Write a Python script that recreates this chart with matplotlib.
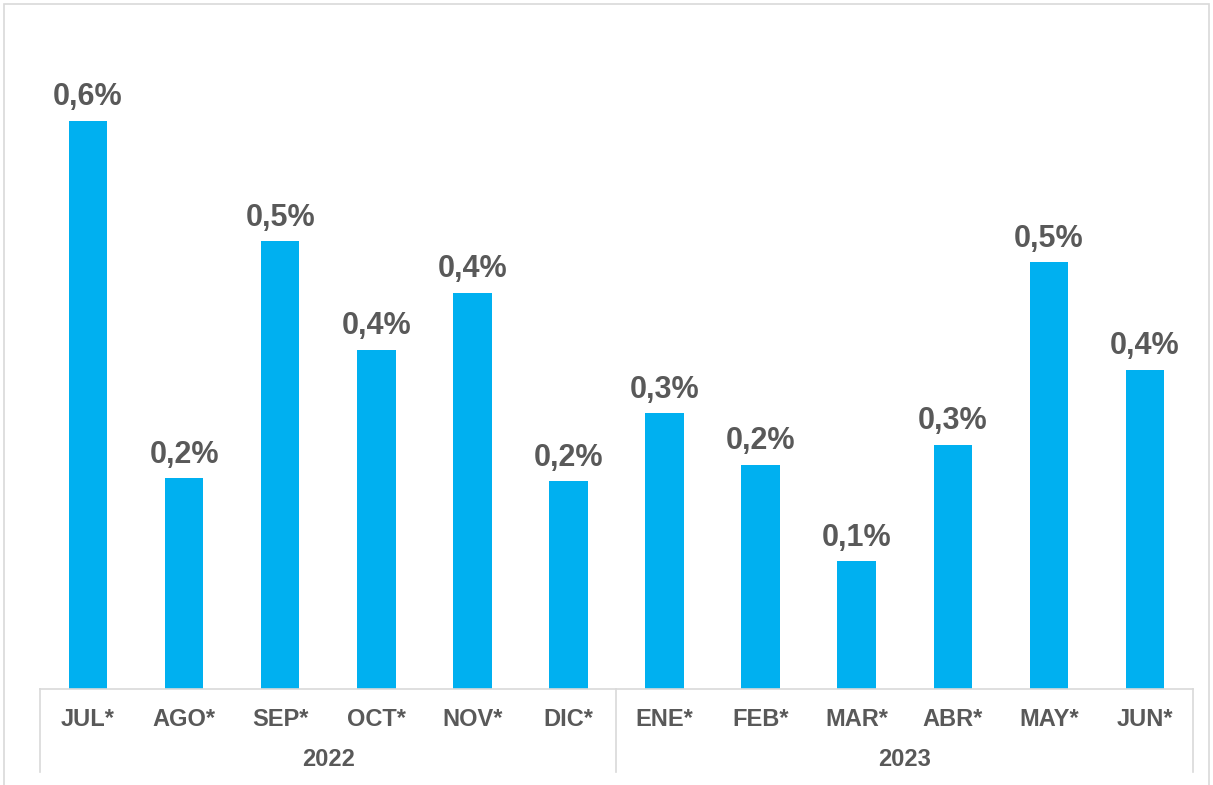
import numpy as np
import matplotlib.pyplot as plt
from matplotlib.patches import Rectangle
import matplotlib.transforms as mtransforms

months = ["JUL*", "AGO*", "SEP*", "OCT*", "NOV*", "DIC*",
          "ENE*", "FEB*", "MAR*", "ABR*", "MAY*", "JUN*"]
values = [0.628, 0.233, 0.495, 0.375, 0.438, 0.23,
          0.305, 0.248, 0.141, 0.27, 0.472, 0.353]
years = ["2022", "2023"]
year_sizes = [6, 6]

bar_color = "#00B0F0"
text_color = "#595959"
line_color = "#D9D9D9"

plt.rcParams['font.family'] = ['Liberation Sans', 'DejaVu Sans']

fig = plt.figure(figsize=(12.13, 7.85), dpi=100)
W, H = 1213.0, 785.0
x0, x1 = 40.0, 1193.0
y_base, y_top = 689.0, 40.0
ax = fig.add_axes([x0 / W, 1 - y_base / H, (x1 - x0) / W, (y_base - y_top) / H])

px_per_unit = 905.0
ymax = (y_base - y_top) / px_per_unit

x = np.arange(len(months))
ax.bar(x, values, width=0.4, color=bar_color)
for xi, v in zip(x, values):
    ax.annotate(("%.1f" % v).replace(".", ",") + "%", (xi, v),
                xytext=(0, 6), textcoords="offset points",
                ha="center", va="bottom", fontsize=22, fontweight="bold",
                color=text_color)

ax.set_xlim(-0.5, len(months) - 0.5)
ax.set_ylim(0, ymax)
ax.set_yticks([])
ax.set_xticks([])
for s in ["top", "left", "right"]:
    ax.spines[s].set_visible(False)
ax.spines["bottom"].set_color(line_color)
ax.spines["bottom"].set_linewidth(1.2)

trans = mtransforms.blended_transform_factory(ax.transData, ax.transAxes)
px = 1.0 / (y_base - y_top)
for xi, m in zip(x, months):
    ax.text(xi, -31 * px, m, transform=trans, ha="center", va="center",
            fontsize=17, fontweight="bold", color=text_color)

# group separators and year labels
start = 0
edges = [-0.5]
for y, n in zip(years, year_sizes):
    mid = start + (n - 1) / 2.0
    ax.text(mid, -71 * px, y, transform=trans, ha="center", va="center",
            fontsize=17, fontweight="bold", color=text_color)
    start += n
    edges.append(start - 0.5)
for e in edges:
    ax.plot([e, e], [0, -83 * px], transform=trans, color=line_color,
            lw=1.2, clip_on=False)

# outer chart border
fig.patches.append(Rectangle((4 / W, -0.01), (1209 - 4) / W, 1 - 4 / H + 0.01,
                             transform=fig.transFigure, fill=False,
                             edgecolor=line_color, lw=1.2))

fig.savefig("out.png", dpi=100)
